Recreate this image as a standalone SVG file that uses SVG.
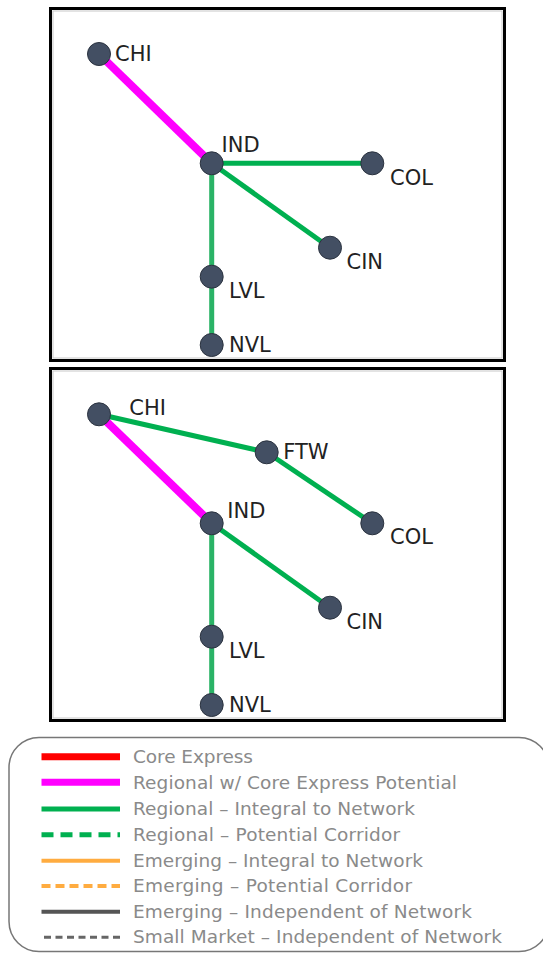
<svg xmlns="http://www.w3.org/2000/svg" width="543" height="953" viewBox="0 0 543 953">
<style>
.panel{fill:#fff;stroke:#000;stroke-width:3}
.inner{fill:none;stroke:#c8c8c8;stroke-width:1}
.node{fill:#434f63;stroke:#2b3340;stroke-width:1}
.lbl{font-family:"DejaVu Sans","Liberation Sans",sans-serif;font-size:21px;fill:#222}
.mag{stroke:#ff00ff;stroke-width:8;stroke-linecap:butt}
.grn{stroke:#00b050;stroke-width:5}
.grv{stroke:#2ab366;stroke-width:5}
.leg{font-family:"DejaVu Sans","Liberation Sans",sans-serif;font-size:18.5px;fill:#8a8a8a}
</style>
<rect width="543" height="953" fill="#fff"/>
<g id="panel1">
<rect class="panel" x="50.5" y="8.5" width="454" height="352"/>
<rect class="inner" x="53" y="11" width="449" height="347"/>
</g>
<g id="panel2">
<rect class="panel" x="50.5" y="368.5" width="454" height="352"/>
<rect class="inner" x="53" y="371" width="449" height="347"/>
</g>
<g id="connectors">
<line class="mag" x1="99" y1="54" x2="211.7" y2="163.3"/>
<line class="grn" x1="211.7" y1="163.3" x2="372.3" y2="163.3"/>
<line class="grn" x1="211.7" y1="163.3" x2="330" y2="247.7"/>
<line class="grv" x1="211.7" y1="163.3" x2="211.7" y2="345"/>
<line class="mag" x1="99" y1="414.3" x2="211.7" y2="523.3"/>
<line class="grn" x1="99" y1="414.3" x2="266.7" y2="452.3"/>
<line class="grn" x1="266.7" y1="452.3" x2="372.3" y2="523.3"/>
<line class="grn" x1="211.7" y1="523.3" x2="330" y2="607.7"/>
<line class="grv" x1="211.7" y1="523.3" x2="211.7" y2="705"/>
</g>
<g id="p1-CHI"><circle class="node" cx="99" cy="54" r="11.5"/><text class="lbl" x="115" y="61">CHI</text></g>
<g id="p1-IND"><circle class="node" cx="211.7" cy="163.3" r="11.5"/><text class="lbl" x="221.5" y="151.7">IND</text></g>
<g id="p1-COL"><circle class="node" cx="372.3" cy="163.3" r="11.5"/><text class="lbl" x="390" y="185">COL</text></g>
<g id="p1-CIN"><circle class="node" cx="330" cy="247.7" r="11.5"/><text class="lbl" x="346.5" y="269.3">CIN</text></g>
<g id="p1-LVL"><circle class="node" cx="211.7" cy="276.7" r="11.5"/><text class="lbl" x="229" y="297.7">LVL</text></g>
<g id="p1-NVL"><circle class="node" cx="211.7" cy="345" r="11.5"/><text class="lbl" x="229" y="351.7">NVL</text></g>
<g id="p2-CHI"><circle class="node" cx="99" cy="414.3" r="11.5"/><text class="lbl" x="129.3" y="415">CHI</text></g>
<g id="p2-FTW"><circle class="node" cx="266.7" cy="452.3" r="11.5"/><text class="lbl" x="283.3" y="459">FTW</text></g>
<g id="p2-IND"><circle class="node" cx="211.7" cy="523.3" r="11.5"/><text class="lbl" x="227.3" y="517.7">IND</text></g>
<g id="p2-COL"><circle class="node" cx="372.3" cy="523.3" r="11.5"/><text class="lbl" x="390" y="544.3">COL</text></g>
<g id="p2-CIN"><circle class="node" cx="330" cy="607.7" r="11.5"/><text class="lbl" x="346.5" y="629.3">CIN</text></g>
<g id="p2-LVL"><circle class="node" cx="211.7" cy="636.7" r="11.5"/><text class="lbl" x="229" y="657.7">LVL</text></g>
<g id="p2-NVL"><circle class="node" cx="211.7" cy="705" r="11.5"/><text class="lbl" x="229" y="711.7">NVL</text></g>
<g id="legend">
<rect x="9" y="737.5" width="540" height="214" rx="30" fill="#fff" stroke="#777" stroke-width="1.5"/>
<line x1="41.5" y1="756.7" x2="120" y2="756.7" stroke="#ff0000" stroke-width="7"/>
<line x1="41.5" y1="782.3" x2="120" y2="782.3" stroke="#ff00ff" stroke-width="7"/>
<line x1="41.5" y1="809" x2="120" y2="809" stroke="#00b050" stroke-width="5"/>
<line x1="41.5" y1="834.7" x2="120" y2="834.7" stroke="#00b050" stroke-width="5" stroke-dasharray="12 7"/>
<line x1="41.5" y1="860.7" x2="120" y2="860.7" stroke="#ffac40" stroke-width="4"/>
<line x1="41.5" y1="886" x2="120" y2="886" stroke="#ffac40" stroke-width="4" stroke-dasharray="9 5"/>
<line x1="41.5" y1="911.7" x2="120" y2="911.7" stroke="#555" stroke-width="4"/>
<line x1="44" y1="937.3" x2="120" y2="937.3" stroke="#666" stroke-width="3" stroke-dasharray="7 4.5"/>
<text class="leg" x="133" y="763" textLength="120">Core Express</text>
<text class="leg" x="133" y="788.5" textLength="324">Regional w/ Core Express Potential</text>
<text class="leg" x="133" y="815" textLength="282">Regional – Integral to Network</text>
<text class="leg" x="133" y="840.5" textLength="267">Regional – Potential Corridor</text>
<text class="leg" x="133" y="866.5" textLength="290">Emerging – Integral to Network</text>
<text class="leg" x="133" y="892" textLength="279">Emerging – Potential Corridor</text>
<text class="leg" x="133" y="917.5" textLength="339">Emerging – Independent of Network</text>
<text class="leg" x="133" y="943" textLength="369">Small Market – Independent of Network</text>
</g>
</svg>
